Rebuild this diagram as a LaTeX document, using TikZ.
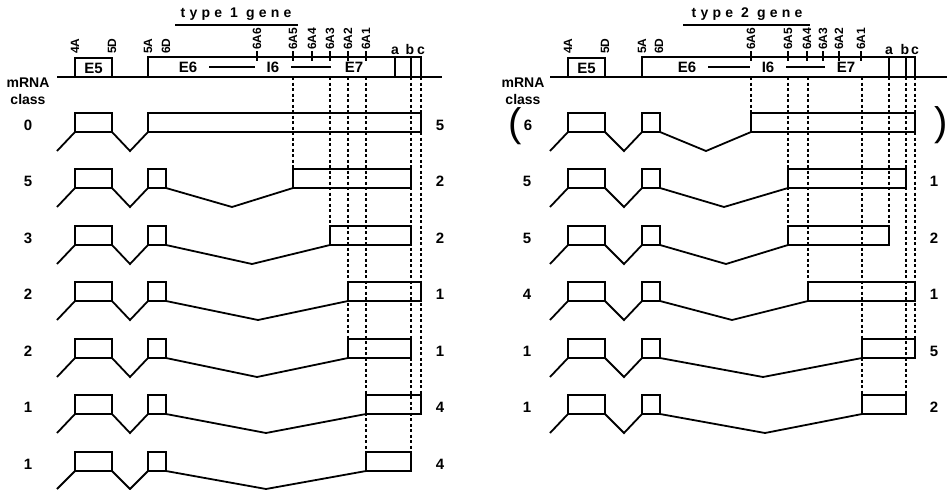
\documentclass[tikz,border=0pt]{standalone}
\usepackage{fontspec}
\setmainfont{Liberation Sans}
\newfontfamily\rarfont[LetterSpace=30]{Liberation Sans}
\usetikzlibrary{positioning,calc}
\tikzset{
  linie/.style    = {line width=1.8pt, line join=miter},
  crestat/.style  = {line width=1.2pt},
  punctat/.style  = {line width=1.1pt, dash pattern=on 3pt off 2.5pt},
  eticheta/.style = {rotate=90, anchor=west, inner sep=0pt, font=\bfseries\fontsize{12}{12}\selectfont},
  litera/.style   = {anchor=south, inner sep=0pt, font=\bfseries\fontsize{14}{14}\selectfont},
  exonnume/.style = {inner sep=0pt, font=\bfseries\fontsize{15}{15}\selectfont},
  cifra/.style    = {inner sep=0pt, font=\bfseries\fontsize{15}{15}\selectfont},
  clasa/.style    = {inner sep=0pt, align=center, font=\bfseries\fontsize{14}{17}\selectfont},
  titlu/.style    = {inner sep=0pt, font=\rarfont\bfseries\fontsize{14}{14}\selectfont},
  paranteza/.style= {inner sep=0pt, font=\fontsize{40}{40}\selectfont}
}

\begin{document}
\begin{tikzpicture}[x=1pt, y=-1pt]
        \useasboundingbox (0,0) rectangle (951,490);

        % ---------- gena de tip 1 ----------
        \node[titlu] (titlu1) at (236,14) {type 1 gene};
        \draw[linie] (175,25) -- (298,25);
        \draw[linie] (57,77) -- (442,77);
        \draw[linie] (75,77) rectangle (112,58);
        \draw[linie] (148,77) -- (148,57) -- (421,57) -- (421,77);
        \draw[linie] (395,57) -- (395,77) (411,57) -- (411,77);
        \draw[crestat] (257,51) -- (257,61) (293,51) -- (293,61) (312,51) -- (312,61)
                       (330,51) -- (330,61) (348,51) -- (348,61) (366,51) -- (366,61);
        \node[eticheta] (g1l4A) at (75,54) {4A};
        \node[eticheta] (g1l5D) at (112,54) {5D};
        \node[eticheta] (g1l5A) at (148,54) {5A};
        \node[eticheta] (g1l6D) at (166,54) {6D};
        \node[eticheta] (g1l6A6) at (257,50) {6A6};
        \node[eticheta] (g1l6A5) at (293,50) {6A5};
        \node[eticheta] (g1l6A4) at (312,50) {6A4};
        \node[eticheta] (g1l6A3) at (330,50) {6A3};
        \node[eticheta] (g1l6A2) at (348,50) {6A2};
        \node[eticheta] (g1l6A1) at (366,50) {6A1};
        \node[litera] (g1a) at (395,55) {a};
        \node[litera] (g1b) at (410,55) {b};
        \node[litera] (g1c) at (421,55) {c};
        \node[exonnume] (g1e5) at (93.5,68) {E5};
        \node[exonnume] (g1e6) at (188,67) {E6};
        \node[exonnume] (g1i6) at (273,67) {I6};
        \node[exonnume] (g1e7) at (354,67) {E7};
        \draw[linie] ($(g1e6.east)+(12,0)$) -- ($(g1i6.west)+(-12,0)$);
        \draw[linie] ($(g1i6.east)+(12,0)$) -- ($(g1e7.west)+(-14,0)$);
        \node[clasa] (g1clasa) at (28,91) {mRNA\\class};

        % ARN-uri de tip 1
        \draw[linie] (57,151) -- (75,132) -- (112,132) -- (130,151) -- (148,132) -- (421,132) -- (421,113) -- (148,113) -- (148,132);
        \draw[linie] (75,132) |- (112,113) -- (112,132);
        \draw[linie] (57,207) -- (75,188) -- (112,188) -- (130,207) -- (148,188) -- (166,188) -- (232,207) -- (293,188) -- (411,188) -- (411,169) -- (293,169) -- (293,188);
        \draw[linie] (75,188) |- (112,169) -- (112,188) (148,188) |- (166,169) -- (166,188);
        \draw[linie] (57,264) -- (75,245) -- (112,245) -- (130,264) -- (148,245) -- (166,245) -- (252,264) -- (330,245) -- (411,245) -- (411,226) -- (330,226) -- (330,245);
        \draw[linie] (75,245) |- (112,226) -- (112,245) (148,245) |- (166,226) -- (166,245);
        \draw[linie] (57,320) -- (75,301) -- (112,301) -- (130,320) -- (148,301) -- (166,301) -- (258,320) -- (348,301) -- (421,301) -- (421,282) -- (348,282) -- (348,301);
        \draw[linie] (75,301) |- (112,282) -- (112,301) (148,301) |- (166,282) -- (166,301);
        \draw[linie] (57,377) -- (75,358) -- (112,358) -- (130,377) -- (148,358) -- (166,358) -- (257,377) -- (348,358) -- (411,358) -- (411,339) -- (348,339) -- (348,358);
        \draw[linie] (75,358) |- (112,339) -- (112,358) (148,358) |- (166,339) -- (166,358);
        \draw[linie] (57,433) -- (75,414) -- (112,414) -- (130,433) -- (148,414) -- (166,414) -- (266,433) -- (366,414) -- (421,414) -- (421,395) -- (366,395) -- (366,414);
        \draw[linie] (75,414) |- (112,395) -- (112,414) (148,414) |- (166,395) -- (166,414);
        \draw[linie] (57,489) -- (75,471) -- (112,471) -- (130,489) -- (148,471) -- (166,471) -- (266,489) -- (366,471) -- (411,471) -- (411,452) -- (366,452) -- (366,471);
        \draw[linie] (75,471) |- (112,452) -- (112,471) (148,471) |- (166,452) -- (166,471);

        \draw[punctat] (293,77) -- (293,169);
        \draw[punctat] (330,77) -- (330,226);
        \draw[punctat] (348,77) -- (348,339);
        \draw[punctat] (366,77) -- (366,452);
        \draw[punctat] (411,77) -- (411,452);
        \draw[punctat] (421,77) -- (421,395);

        \node[cifra] (g1s1) at (28,125) {0};   \node[cifra] (g1d1) at (440,125) {5};
        \node[cifra] (g1s2) at (28,181) {5};   \node[cifra] (g1d2) at (440,181) {2};
        \node[cifra] (g1s3) at (28,238) {3};   \node[cifra] (g1d3) at (440,238) {2};
        \node[cifra] (g1s4) at (28,294) {2};   \node[cifra] (g1d4) at (440,294) {1};
        \node[cifra] (g1s5) at (28,351) {2};   \node[cifra] (g1d5) at (440,351) {1};
        \node[cifra] (g1s6) at (28,407) {1};   \node[cifra] (g1d6) at (440,407) {4};
        \node[cifra] (g1s7) at (28,464) {1};   \node[cifra] (g1d7) at (440,464) {4};

        % ---------- gena de tip 2 ----------
        \node[titlu] (titlu2) at (747,14) {type 2 gene};
        \draw[linie] (683,25) -- (810,25);
        \draw[linie] (550,77) -- (947,77);
        \draw[linie] (568,77) rectangle (605,58);
        \draw[linie] (642,77) -- (642,57) -- (915,57) -- (915,77);
        \draw[linie] (889,57) -- (889,77) (906,57) -- (906,77);
        \draw[crestat] (751,51) -- (751,61) (788,51) -- (788,61) (807,51) -- (807,61)
                       (823,51) -- (823,61) (839,51) -- (839,61) (861,51) -- (861,61);
        \node[eticheta] (g2l4A) at (568,54) {4A};
        \node[eticheta] (g2l5D) at (605,54) {5D};
        \node[eticheta] (g2l5A) at (642,54) {5A};
        \node[eticheta] (g2l6D) at (659,54) {6D};
        \node[eticheta] (g2l6A6) at (751,50) {6A6};
        \node[eticheta] (g2l6A5) at (788,50) {6A5};
        \node[eticheta] (g2l6A4) at (807,50) {6A4};
        \node[eticheta] (g2l6A3) at (823,50) {6A3};
        \node[eticheta] (g2l6A2) at (839,50) {6A2};
        \node[eticheta] (g2l6A1) at (861,50) {6A1};
        \node[litera] (g2a) at (889,55) {a};
        \node[litera] (g2b) at (905,55) {b};
        \node[litera] (g2c) at (915,55) {c};
        \node[exonnume] (g2e5) at (586.5,68) {E5};
        \node[exonnume] (g2e6) at (687,67) {E6};
        \node[exonnume] (g2i6) at (768,67) {I6};
        \node[exonnume] (g2e7) at (846,67) {E7};
        \draw[linie] ($(g2e6.east)+(12,0)$) -- ($(g2i6.west)+(-12,0)$);
        \draw[linie] ($(g2i6.east)+(12,0)$) -- ($(g2e7.west)+(-12,0)$);
        \node[clasa] (g2clasa) at (523,91) {mRNA\\class};

        % ARN-uri de tip 2
        \draw[linie] (550,151) -- (568,132) -- (605,132) -- (624,151) -- (642,132) -- (660,132) -- (706,151) -- (751,132) -- (915,132) -- (915,113) -- (751,113) -- (751,132);
        \draw[linie] (568,132) |- (605,113) -- (605,132) (642,132) |- (660,113) -- (660,132);
        \draw[linie] (550,207) -- (568,188) -- (605,188) -- (624,207) -- (642,188) -- (660,188) -- (724,207) -- (788,188) -- (906,188) -- (906,169) -- (788,169) -- (788,188);
        \draw[linie] (568,188) |- (605,169) -- (605,188) (642,188) |- (660,169) -- (660,188);
        \draw[linie] (550,264) -- (568,245) -- (605,245) -- (624,264) -- (642,245) -- (660,245) -- (726,264) -- (788,245) -- (889,245) -- (889,226) -- (788,226) -- (788,245);
        \draw[linie] (568,245) |- (605,226) -- (605,245) (642,245) |- (660,226) -- (660,245);
        \draw[linie] (550,320) -- (568,301) -- (605,301) -- (624,320) -- (642,301) -- (660,301) -- (732,320) -- (808,301) -- (915,301) -- (915,282) -- (808,282) -- (808,301);
        \draw[linie] (568,301) |- (605,282) -- (605,301) (642,301) |- (660,282) -- (660,301);
        \draw[linie] (550,377) -- (568,358) -- (605,358) -- (624,377) -- (642,358) -- (660,358) -- (763,377) -- (862,358) -- (915,358) -- (915,339) -- (862,339) -- (862,358);
        \draw[linie] (568,358) |- (605,339) -- (605,358) (642,358) |- (660,339) -- (660,358);
        \draw[linie] (550,433) -- (568,414) -- (605,414) -- (624,433) -- (642,414) -- (660,414) -- (765,433) -- (862,414) -- (906,414) -- (906,395) -- (862,395) -- (862,414);
        \draw[linie] (568,414) |- (605,395) -- (605,414) (642,414) |- (660,395) -- (660,414);

        \draw[punctat] (751,77) -- (751,113);
        \draw[punctat] (788,77) -- (788,226);
        \draw[punctat] (808,77) -- (808,282);
        \draw[punctat] (862,77) -- (862,395);
        \draw[punctat] (889,77) -- (889,226);
        \draw[punctat] (906,77) -- (906,395);
        \draw[punctat] (915,77) -- (915,339);

        \node[paranteza] (pst) at (515,126) {(};
        \node[cifra] (g2s1) at (528,125) {6};   \node[paranteza] (pdr) at (941,125) {)};
        \node[cifra] (g2s2) at (527,181) {5};   \node[cifra] (g2d2) at (934,181) {1};
        \node[cifra] (g2s3) at (527,238) {5};   \node[cifra] (g2d3) at (934,238) {2};
        \node[cifra] (g2s4) at (527,294) {4};   \node[cifra] (g2d4) at (934,294) {1};
        \node[cifra] (g2s5) at (527,351) {1};   \node[cifra] (g2d5) at (934,351) {5};
        \node[cifra] (g2s6) at (527,407) {1};   \node[cifra] (g2d6) at (934,407) {2};
    \end{tikzpicture}
\end{document}
